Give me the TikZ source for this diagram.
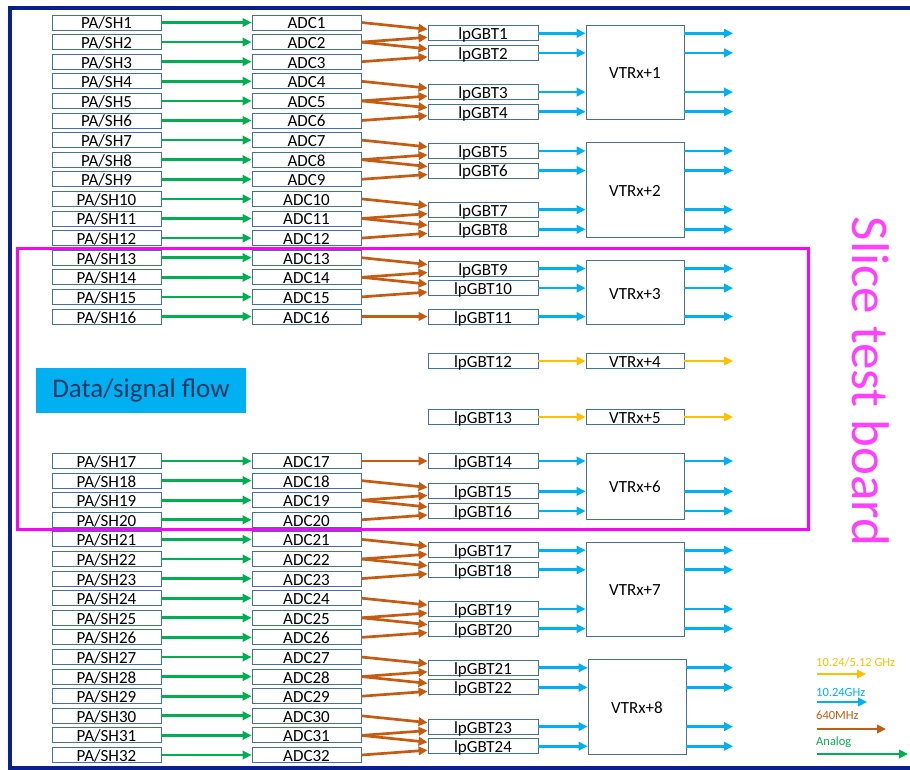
\documentclass[tikz,border=0pt]{standalone}
\usepackage{fontspec}
\setmainfont{Carlito}
\usetikzlibrary{arrows.meta,calc}
\definecolor{boxline}{RGB}{65,113,156}
\definecolor{analog}{RGB}{0,176,80}
\definecolor{elink}{RGB}{197,90,17}
\definecolor{fast}{RGB}{0,176,240}
\definecolor{slow}{RGB}{255,192,0}
\definecolor{boardframe}{RGB}{10,32,140}
\definecolor{flowtext}{RGB}{31,56,100}
\definecolor{slicepink}{RGB}{255,0,255}
\definecolor{slicetext}{RGB}{255,64,255}
\tikzset{
	chip/.style={rectangle, draw=boxline, line width=0.9pt, fill=white, inner sep=0pt, minimum height=15pt, text height=13pt, text depth=0pt, font=\fontsize{17}{19}\selectfont},
	pabox/.style={chip, minimum width=109pt},
	adcbox/.style={chip, minimum width=109pt},
	lpbox/.style={chip, minimum width=110pt},
	vtrxbox/.style={chip, minimum width=98pt},
	sig/.style={line width=2.7pt, -{Triangle[length=9pt,width=8.5pt]}},
	analogarrow/.style={sig, color=analog},
	elinkarrow/.style={sig, color=elink},
	fastarrow/.style={sig, color=fast},
	slowarrow/.style={sig, color=slow},
	legtext/.style={anchor=base west, inner sep=0pt, font=\fontsize{12.5}{14}\selectfont}
}
\begin{document}
\begin{tikzpicture}[x=1pt, y=-1pt]
		\useasboundingbox (0, 0) rectangle (910, 770);
		\draw[boardframe, line width=4pt] (925, 8.5) -- (10, 8.5) -- (10, 767.5) -- (925, 767.5);
		\coordinate (out) at (733, 0);
		\foreach \i in {1,...,32} {
			\pgfmathsetmacro{\yrow}{\i<17 ? 22.5+(\i-1)*19.6 : 461+(\i-17)*19.6}
			\node[pabox] (pa\i) at (106.5, \yrow) {PA/SH\i};
			\node[adcbox] (adc\i) at (306.5, \yrow) {ADC\i};
			\draw[analogarrow] (pa\i) -- (adc\i);
		}
		\foreach \k/\y in {1/33.3, 2/52.9, 3/92.1, 4/111.7, 5/150.9, 6/170.5, 7/209.7, 8/229.3, 9/268.5, 10/288.1, 11/316.5, 12/361, 13/417, 14/461, 15/491.4, 16/511, 17/550.2, 18/569.8, 19/609, 20/628.6, 21/667.8, 22/687.4, 23/726.6, 24/746.2}
			\node[lpbox] (lp\k) at (483, \y) {lpGBT\k};
		\foreach \v/\x/\y/\h in {1/635/72.5/94.4, 2/635/190.1/94.4, 3/635/292.5/64, 4/635/361/15, 5/635/417/15, 6/635/486/66, 7/635/589.4/94.4, 8/637/707/94.4}
			\node[vtrxbox, minimum height=\h pt] (v\v) at (\x, \y) {VTRx+\v};
		\foreach \row/\a/\b in {1/1/2, 4/3/4, 7/5/6, 10/7/8, 13/9/10, 18/15/16, 21/17/18, 24/19/20, 27/21/22, 30/23/24} {
			\pgfmathtruncatemacro{\rowb}{\row+1}
			\pgfmathtruncatemacro{\rowc}{\row+2}
			\draw[elinkarrow] (adc\row.east) -- ($(lp\a.west)+(0,-4)$);
			\draw[elinkarrow] (adc\rowb.east) -- ($(lp\a.west)+(0,4)$);
			\draw[elinkarrow] (adc\rowb.east) -- ($(lp\b.west)+(0,-4)$);
			\draw[elinkarrow] (adc\rowc.east) -- ($(lp\b.west)+(0,4)$);
		}
		\draw[elinkarrow] (adc16) -- (lp11);
		\draw[elinkarrow] (adc17) -- (lp14);
		\foreach \k/\v in {1/1, 2/1, 3/1, 4/1, 5/2, 6/2, 7/2, 8/2, 9/3, 10/3, 11/3, 14/6, 15/6, 16/6, 17/7, 18/7, 19/7, 20/7, 21/8, 22/8, 23/8, 24/8} {
			\draw[fastarrow] (lp\k) -- (lp\k -| v\v.west);
			\draw[fastarrow] (lp\k -| v\v.east) -- (lp\k -| out);
		}
		\draw[slowarrow] (lp12) -- (v4);
		\draw[slowarrow] (v4) -- (v4 -| out);
		\draw[slowarrow] (lp13) -- (v5);
		\draw[slowarrow] (v5) -- (v5 -| out);
		\node[fill=fast, minimum width=210pt, minimum height=45pt, inner sep=0pt, text=flowtext, font=\fontsize{27}{30}\selectfont] (flow) at (141, 390.5) {Data/signal flow};
		\draw[slicepink, line width=3pt] (17, 248) rectangle (808, 529.5);
		\node[rotate=-90, inner sep=0pt, text=slicetext, font=\fontsize{53}{60}\selectfont] (slice) at (871, 381.5) {Slice test board};
		\node[legtext, text=slow] (legslow) at (816, 666) {10.24/5.12 GHz};
		\node[legtext, text=fast] (legfast) at (816, 696) {10.24GHz};
		\node[legtext, text=elink] (legelink) at (816, 719.5) {640MHz};
		\node[legtext, text=analog] (leganalog) at (816, 745) {Analog};
		\coordinate (slowa) at (817, 674);
		\coordinate (slowb) at (866, 674);
		\coordinate (fasta) at (817, 702);
		\coordinate (fastb) at (867, 702);
		\coordinate (elinka) at (817, 729);
		\coordinate (elinkb) at (886, 729);
		\coordinate (analoga) at (817, 754);
		\coordinate (analogb) at (908, 754);
		\draw[slowarrow] (slowa) -- (slowb);
		\draw[fastarrow] (fasta) -- (fastb);
		\draw[elinkarrow] (elinka) -- (elinkb);
		\draw[analogarrow] (analoga) -- (analogb);
	\end{tikzpicture}
\end{document}
